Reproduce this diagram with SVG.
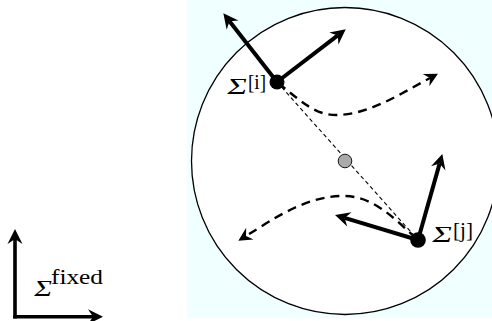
<svg xmlns="http://www.w3.org/2000/svg" width="492" height="321" viewBox="0 0 492 321">
  <defs>
    <marker id="stealth" markerUnits="userSpaceOnUse" viewBox="-6 -9 20 18" refX="0" refY="0" markerWidth="20" markerHeight="18" orient="auto" overflow="visible">
      <path d="M10,0 L-5,-7.5 L0,0 L-5,7.5 Z" fill="#000"/>
    </marker>
    <marker id="stealthSmall" markerUnits="userSpaceOnUse" viewBox="-6 -8 18 16" refX="0" refY="0" markerWidth="18" markerHeight="16" orient="auto" overflow="visible">
      <path d="M9,0 L-4.5,-7 L0,0 L-4.5,7 Z" fill="#000"/>
    </marker>
  </defs>
  <style>
    .thick { stroke: #000; stroke-width: 4; fill: none; marker-end: url(#stealth); }
    .dash { stroke: #000; stroke-width: 2.4; fill: none; stroke-dasharray: 9 6; marker-end: url(#stealthSmall); }
    .thin { stroke: #000; stroke-width: 1.1; fill: none; stroke-dasharray: 4 3; }
    .lbl { font-family: "Liberation Serif", serif; fill: #000; }
    .sig { font-size: 23px; }
    .sup { font-size: 20px; }
  </style>

  <rect id="background" x="187" y="0" width="305" height="318" fill="#f0ffff"/>

  <g id="domain">
    <circle cx="345" cy="161" r="153.5" fill="#fff" stroke="#000" stroke-width="1.3"/>
  </g>

  <g id="connectors">
    <line class="thin" x1="277" y1="82" x2="418" y2="240"/>
    <path class="dash" d="M278,83 C300,100 315,116 338,115 C370,114 400,94 430,78"/>
    <path class="dash" d="M416,238 C395,220 375,196 343,196 C305,196 272,220 246,236"/>
    <line class="thick" x1="277" y1="82" x2="229.5" y2="21.2"/>
    <line class="thick" x1="277" y1="82" x2="337.8" y2="35.4"/>
    <line class="thick" x1="418" y1="240" x2="439.6" y2="163.6"/>
    <line class="thick" x1="418" y1="240" x2="344.6" y2="217.9"/>
  </g>

  <g id="center">
    <circle cx="345" cy="161" r="6.8" fill="#aaaaaa" stroke="#000" stroke-width="0.9"/>
  </g>

  <g id="node-i">
    <circle cx="277" cy="82" r="7.5" fill="#000"/>
    <text class="lbl sig" transform="translate(236,94) skewX(-12)" x="-10" y="0" textLength="20" lengthAdjust="spacingAndGlyphs">Σ</text>
    <text class="lbl sup" x="248" y="89" textLength="18" lengthAdjust="spacingAndGlyphs">[i]</text>
  </g>

  <g id="node-j">
    <circle cx="418" cy="240" r="7.8" fill="#000"/>
    <text class="lbl sig" transform="translate(441,242) skewX(-12)" x="-10" y="0" textLength="20" lengthAdjust="spacingAndGlyphs">Σ</text>
    <text class="lbl sup" x="453" y="237" textLength="20" lengthAdjust="spacingAndGlyphs">[j]</text>
  </g>

  <g id="fixed-frame">
    <line x1="15" y1="318.5" x2="15" y2="239" stroke="#000" stroke-width="3.6" marker-end="url(#stealth)"/>
    <line x1="13.2" y1="316.7" x2="93" y2="316.7" stroke="#000" stroke-width="3.6" marker-end="url(#stealth)"/>
    <text class="lbl sig" transform="translate(42,296) skewX(-12)" x="-9" y="0" textLength="18" lengthAdjust="spacingAndGlyphs">Σ</text>
    <text class="lbl" x="51" y="284" font-size="20" textLength="52" lengthAdjust="spacingAndGlyphs">fixed</text>
  </g>
</svg>
